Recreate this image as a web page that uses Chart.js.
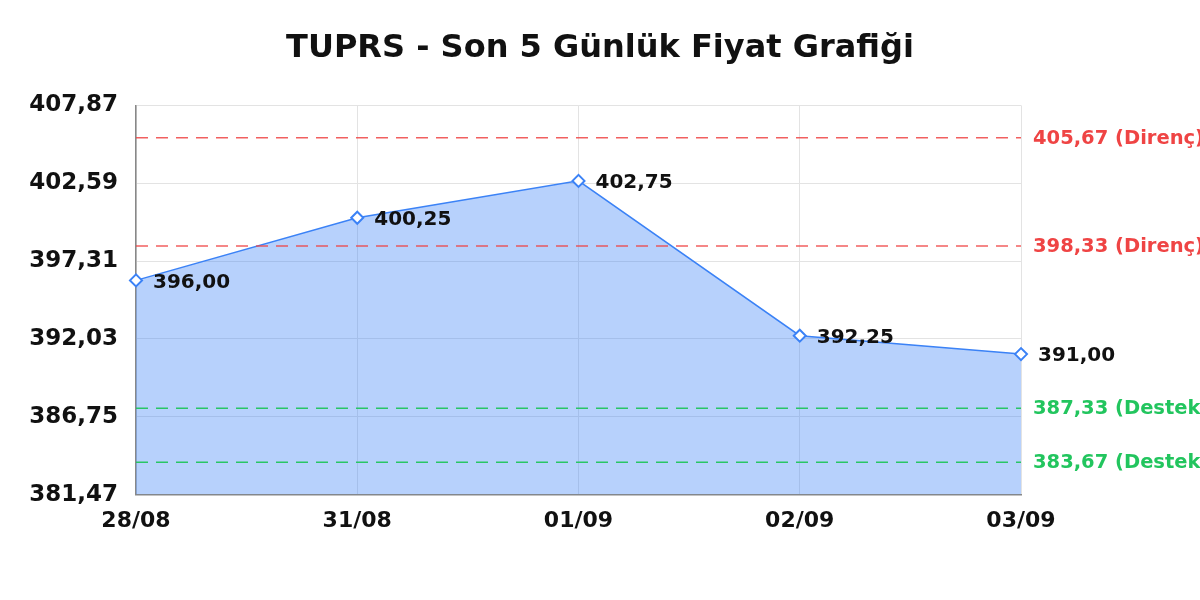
<!DOCTYPE html>
<html>
<head>
<meta charset="utf-8">
<script src="https://cdn.jsdelivr.net/npm/chart.js@4"></script>
<style>
  html, body { margin: 0; padding: 0; background: #fff; overflow: hidden; }
  #wrap { width: 1200px; height: 600px; }
</style>
</head>
<body>
<div id="wrap"><canvas id="chart"></canvas></div>
<script>
var days = ['28/08', '31/08', '01/09', '02/09', '03/09'];
var prices = [396.00, 400.25, 402.75, 392.25, 391.00];
var yTicks = [381.47, 386.75, 392.03, 397.31, 402.59, 407.87];
var resistance = [405.67, 398.33];
var support = [387.33, 383.67];

var FONT = 'DejaVu Sans';
function fmt(v) { return v.toFixed(2).replace('.', ','); }

// dashed support / resistance lines with their text on the right
var levelsPlugin = {
  id: 'levels',
  afterDatasetsDraw: function(chart) {
    var ctx = chart.ctx, y = chart.scales.y, area = chart.chartArea;
    function draw(vals, lineCol, txtCol, word) {
      vals.forEach(function(v) {
        var py = y.getPixelForValue(v);
        ctx.save();
        ctx.strokeStyle = lineCol;
        ctx.lineWidth = 1.5;
        ctx.setLineDash([12, 8]);
        ctx.beginPath();
        ctx.moveTo(area.left, py);
        ctx.lineTo(area.right, py);
        ctx.stroke();
        ctx.setLineDash([]);
        ctx.fillStyle = txtCol;
        ctx.font = 'bold 19.5px ' + FONT;
        ctx.textAlign = 'left';
        ctx.textBaseline = 'middle';
        ctx.fillText(fmt(v) + ' (' + word + ')', area.right + 12, py + 1);
        ctx.restore();
      });
    }
    draw(resistance, 'rgba(239,68,68,0.85)', '#ef4444', 'Direnç');
    draw(support, 'rgba(34,197,94,0.95)', '#22c55e', 'Destek');

    // value labels next to points
    var meta = chart.getDatasetMeta(0);
    ctx.save();
    ctx.fillStyle = '#111';
    ctx.font = 'bold 20px ' + FONT;
    ctx.textAlign = 'left';
    ctx.textBaseline = 'middle';
    meta.data.forEach(function(pt, i) {
      ctx.fillText(fmt(prices[i]), pt.x + 17, pt.y + 2);
    });
    ctx.restore();
  }
};

new Chart(document.getElementById('chart'), {
  type: 'line',
  data: {
    labels: days,
    datasets: [{
      data: prices,
      borderColor: '#3b82f6',
      backgroundColor: 'rgba(59,130,246,0.37)',
      borderWidth: 1.5,
      fill: 'start',
      tension: 0,
      pointStyle: 'rectRot',
      pointRadius: 6,
      pointBorderWidth: 2,
      pointBackgroundColor: '#fff',
      pointBorderColor: '#3b82f6'
    }]
  },
  options: {
    responsive: true,
    maintainAspectRatio: false,
    animation: false,
    layout: { padding: { left: 0, right: 0, top: 0, bottom: 53 } },
    plugins: {
      legend: { display: false },
      tooltip: { enabled: false },
      title: {
        display: true,
        text: 'TUPRS - Son 5 Günlük Fiyat Grafiği',
        color: '#111',
        font: { family: FONT, size: 32, weight: 'bold' },
        padding: { top: 29, bottom: 38 }
      }
    },
    scales: {
      x: {
        offset: false,
        grid: { color: '#e3e3e3', drawTicks: false },
        border: { color: '#888', width: 1.5 },
        ticks: {
          color: '#111',
          padding: 13,
          maxRotation: 0,
          font: { family: FONT, size: 22, weight: 'bold' }
        }
      },
      y: {
        min: yTicks[0],
        max: yTicks[yTicks.length - 1],
        afterBuildTicks: function(s) {
          s.ticks = yTicks.map(function(v) { return { value: v }; });
        },
        afterFit: function(s) { s.width = 136; },
        grid: { color: '#e3e3e3', drawTicks: false },
        border: { color: '#888', width: 1.5 },
        ticks: {
          color: '#111',
          padding: 18,
          font: { family: FONT, size: 23, weight: 'bold' },
          callback: function(v) { return fmt(v); }
        }
      },
      // empty right-hand axis, keeps room for the level labels
      yRight: {
        position: 'right',
        grid: { display: false },
        border: { display: false },
        ticks: { display: false },
        afterFit: function(s) { s.width = 179; }
      }
    }
  },
  plugins: [levelsPlugin]
});
</script>
</body>
</html>
